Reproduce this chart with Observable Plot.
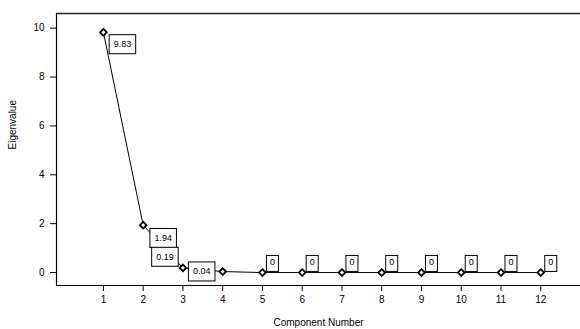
<!DOCTYPE html>
<html><head><meta charset="utf-8">
<script src="https://cdn.jsdelivr.net/npm/d3@7"></script>
<script src="https://cdn.jsdelivr.net/npm/@observablehq/plot@0.6"></script>
<style>body{margin:0;background:#fff}</style>
</head><body><div id="chart"></div>
<script>
const components = [1,2,3,4,5,6,7,8,9,10,11,12];
const eigenvalues = [9.83,1.94,0.19,0.04,0,0,0,0,0,0,0,0];
const valueLabels = ["9.83","1.94","0.19","0.04","0","0","0","0","0","0","0","0"];
const yTicks = [0,2,4,6,8,10];
const xDomain = [-0.18, 13.0];
const yDomain = [-0.53, 10.6];

const data = components.map((c,i)=>({c, v: eigenvalues[i], label: valueLabels[i], i}));
const font = "Liberation Sans, Arial, sans-serif";

const plot = Plot.plot({
  width: 580, height: 329,
  marginLeft: 56, marginRight: 0, marginTop: 13, marginBottom: 44,
  style: {fontFamily: font, fontSize: "10px", color: "#000", background: "#fff"},
  x: {domain: xDomain, ticks: components, tickFormat: d=>String(d), label: null},
  y: {domain: yDomain, ticks: yTicks, tickFormat: d=>String(d), label: null},
  marks: [
    Plot.axisY({ticks: yTicks, tickSize: 6, tickPadding: 6, fontSize: 10, label: null}),
    Plot.axisX({ticks: components, tickSize: 6, tickPadding: 4, fontSize: 10, label: null}),
    Plot.ruleY([yDomain[0]], {stroke: "#000", strokeWidth: 1.2}),
    Plot.ruleY([yDomain[1]], {stroke: "#222", strokeWidth: 1.6}),
    Plot.ruleX([xDomain[0]], {stroke: "#000", strokeWidth: 1.2}),
    Plot.line(data, {x: "c", y: "v", stroke: "#000", strokeWidth: 1}),
    Plot.dot(data, {x: "c", y: "v", symbol: "diamond2", r: 3, stroke: "#000", fill: "#fff", strokeWidth: 1.8}),
    Plot.text(data.filter(d=>d.i===0), {x:"c", y:"v", text:"label", dx: 19, dy: 12, fontSize: 9, className: "boxed"}),
    Plot.text(data.filter(d=>d.i===1), {x:"c", y:"v", text:"label", dx: 20, dy: 13, fontSize: 9, className: "boxed"}),
    Plot.text(data.filter(d=>d.i===2), {x:"c", y:"v", text:"label", dx: -18, dy: -11, fontSize: 9, className: "boxed"}),
    Plot.text(data.filter(d=>d.i===3), {x:"c", y:"v", text:"label", dx: -21, dy: 0, fontSize: 9, className: "boxed"}),
    Plot.text(data.filter(d=>d.i>=4), {x:"c", y:"v", text:"label", dx: 10, dy: -10, fontSize: 9, className: "boxed zero"}),
    Plot.text(["Component Number"], {frameAnchor: "bottom", dy: 40, fontSize: 10, lineAnchor: "bottom"}),
    Plot.text(["Eigenvalue"], {frameAnchor: "left", dx: -44, rotate: -90, fontSize: 10})
  ]
});
document.getElementById("chart").appendChild(plot);

// draw boxes around value labels
plot.querySelectorAll("g.boxed text").forEach(t => {
  const zero = t.parentNode.classList.contains("zero");
  const b = t.getBBox();
  const tr = t.getAttribute("transform");
  const r = document.createElementNS("http://www.w3.org/2000/svg","rect");
  const padX = zero ? 3.5 : 4.5, padTop = zero ? 2 : 4.5, padBot = zero ? 4 : 4.5;
  r.setAttribute("x", b.x - padX);
  r.setAttribute("y", b.y - padTop);
  r.setAttribute("width", b.width + 2*padX);
  r.setAttribute("height", b.height + padTop + padBot);
  r.setAttribute("fill", "#fff");
  r.setAttribute("stroke", "#000");
  r.setAttribute("stroke-width", "1");
  if (tr) r.setAttribute("transform", tr);
  t.parentNode.insertBefore(r, t);
});
</script></body></html>
